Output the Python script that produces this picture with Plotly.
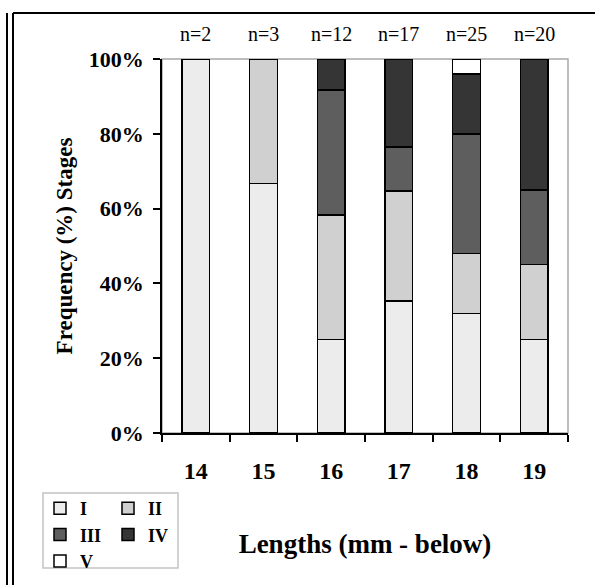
import plotly.graph_objects as go

# Fish length classes (mm) and counts per maturity stage
LENGTHS = ["14", "15", "16", "17", "18", "19"]
N_TOTAL = [2, 3, 12, 17, 25, 20]
STAGES = ["I", "II", "III", "IV", "V"]
COUNT_I = [2, 2, 3, 6, 8, 5]
COUNT_II = [0, 1, 4, 5, 4, 4]
COUNT_III = [0, 0, 4, 2, 8, 4]
COUNT_IV = [0, 0, 1, 4, 4, 7]
COUNT_V = [0, 0, 0, 0, 1, 0]
Y_TICKS = [0, 20, 40, 60, 80, 100]

STAGE_COLORS = {
    "I": "#ececec",
    "II": "#d0d0d0",
    "III": "#5e5e5e",
    "IV": "#353535",
    "V": "#ffffff",
}
# legend split into two columns like the original (I/III/V and II/IV)
STAGE_LEGEND = {"I": "legend", "II": "legend2", "III": "legend", "IV": "legend2", "V": "legend"}

FONT = "Liberation Serif"
W, H = 595, 585
L, R, T, B = 162, 27, 59, 152


def px_x(px):
    return (px - L) / (W - L - R)


def px_y(py):
    return (H - B - py) / (H - T - B)


def pct(counts):
    return [100.0 * c / n if c else None for c, n in zip(counts, N_TOTAL)]


counts = dict(zip(STAGES, [COUNT_I, COUNT_II, COUNT_III, COUNT_IV, COUNT_V]))

fig = go.Figure()
for stage in STAGES:
    fig.add_trace(go.Bar(
        x=LENGTHS, y=pct(counts[stage]),
        name=stage,
        width=0.41,
        marker=dict(color=STAGE_COLORS[stage], line=dict(color="black", width=1.5)),
        legend=STAGE_LEGEND[stage],
    ))

# "n=" labels above each bar (category index, since the labels look numeric)
for i, n in enumerate(N_TOTAL):
    fig.add_annotation(
        x=i, y=1, xref="x", yref="paper", yanchor="bottom", yshift=12,
        text=f"n={n}", showarrow=False,
        font=dict(family=FONT, size=20, color="black"),
    )

shapes = [
    # grey plot-area frame (top / right)
    dict(type="rect", xref="paper", yref="paper", x0=0, x1=1, y0=0, y1=1,
         line=dict(color="#a8a8a8", width=1.5), layer="below"),
    # outer frame lines
    dict(type="line", xref="paper", yref="paper", x0=px_x(7), x1=px_x(7), y0=px_y(13), y1=px_y(H + 5),
         line=dict(color="black", width=2)),
    dict(type="line", xref="paper", yref="paper", x0=px_x(13), x1=px_x(13), y0=px_y(13), y1=px_y(H + 5),
         line=dict(color="black", width=2)),
    dict(type="line", xref="paper", yref="paper", x0=px_x(13), x1=px_x(W + 5), y0=px_y(13), y1=px_y(13),
         line=dict(color="black", width=2)),
    # legend box
    dict(type="rect", xref="paper", yref="paper", x0=px_x(43), x1=px_x(178), y0=px_y(493), y1=px_y(568),
         line=dict(color="#c4c4c4", width=1.5)),
]

legend_common = dict(
    orientation="v", xanchor="left", yanchor="top", traceorder="normal",
    font=dict(family=FONT, size=18, color="black", weight="bold"),
    bgcolor="rgba(0,0,0,0)", borderwidth=0, tracegroupgap=0,
    itemwidth=30,
)

fig.update_layout(
    width=W, height=H,
    margin=dict(l=L, r=R, t=T, b=B, autoexpand=False),
    paper_bgcolor="white", plot_bgcolor="white",
    barmode="stack",
    showlegend=True,
    legend=dict(x=px_x(40), y=px_y(490), **legend_common),
    legend2=dict(x=px_x(108), y=px_y(490), **legend_common),
    shapes=shapes,
    font=dict(family=FONT, color="black"),
)

fig.update_xaxes(
    type="category",
    range=[-0.5, len(LENGTHS) - 0.5],
    tickson="boundaries",
    tickangle=0,
    ticks="outside", ticklen=7, tickwidth=1.5, tickcolor="black",
    showline=True, linecolor="black", linewidth=1.5,
    showgrid=False,
    tickfont=dict(family=FONT, size=24, color="black", weight="bold"),
    ticklabelstandoff=15,
    title=dict(text="Lengths (mm - below)", standoff=52,
               font=dict(family=FONT, size=27, color="black", weight="bold")),
)
fig.update_yaxes(
    range=[0, 100], tickmode="array", tickvals=Y_TICKS,
    ticktext=[f"{v}%" for v in Y_TICKS],
    ticks="outside", ticklen=7, tickwidth=1.5, tickcolor="black",
    showline=True, linecolor="black", linewidth=1.5,
    showgrid=False, zeroline=False,
    tickfont=dict(family=FONT, size=22, color="black", weight="bold"),
    ticklabelstandoff=5,
    title=dict(text="Frequency (%) Stages", standoff=10,
               font=dict(family=FONT, size=23, color="black", weight="bold")),
)

# the page's default body margin would push the chart 8px down and right
fig.write_html(
    "out.html",
    config={"displayModeBar": False},
    post_script="document.body.style.margin='0';",
)
